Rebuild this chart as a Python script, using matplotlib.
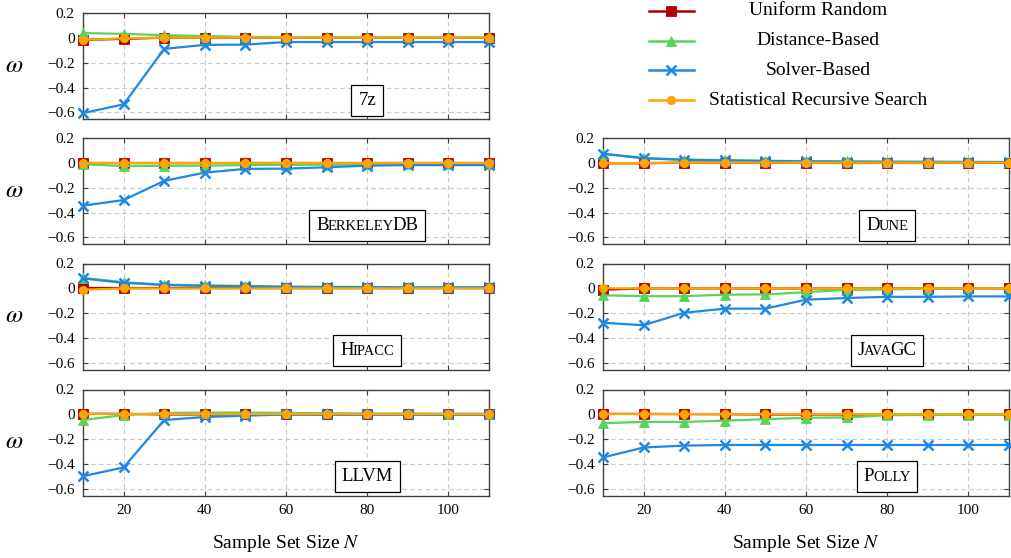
import numpy as np
import matplotlib
matplotlib.use("Agg")
import matplotlib.pyplot as plt
from matplotlib.ticker import FixedLocator, FuncFormatter
from matplotlib.offsetbox import AnchoredOffsetbox, HPacker, TextArea

plt.rcParams['font.family'] = ['Liberation Serif', 'DejaVu Serif']
plt.rcParams['mathtext.fontset'] = 'stix'

# sample sizes
sizes = [10, 20, 30, 40, 50, 60, 70, 80, 90, 100, 110]

methods = ['Uniform Random', 'Distance-Based', 'Solver-Based', 'Statistical Recursive Search']
colors = ['#b30000', '#5ad35a', '#1e88e5', '#ffa500']
markers = ['s', '^', 'x', 'o']
msizes = [7, 7.5, 6.5, 6]

# omega values per system: uniform, distance, solver, srs
z7_uniform = [-0.018, -0.01, 0, 0, 0, 0, 0, 0, 0, 0, 0]
z7_distance = [0.037, 0.03, 0.02, 0.012, 0.006, 0.005, 0.005, 0.005, 0.005, 0.005, 0.005]
z7_solver = [-0.605, -0.535, -0.09, -0.058, -0.056, -0.035, -0.035, -0.035, -0.035, -0.035, -0.035]
z7_srs = [-0.018, -0.005, 0, 0, 0, 0, 0, 0, 0, 0, 0]

bdb_uniform = [0, 0, 0, 0, 0, 0, 0, 0, 0, 0, 0]
bdb_distance = [-0.012, -0.028, -0.025, -0.024, -0.02, -0.018, -0.016, -0.014, -0.012, -0.01, -0.01]
bdb_solver = [-0.345, -0.30, -0.146, -0.08, -0.05, -0.048, -0.037, -0.024, -0.02, -0.02, -0.02]
bdb_srs = [0, 0, 0, 0, 0, 0, 0, 0, 0, 0, 0]

dune_uniform = [-0.005, -0.005, 0, 0, 0, 0, 0, 0, 0, 0, 0]
dune_distance = [0.07, 0.037, 0.025, 0.02, 0.015, 0.012, 0.01, 0.008, 0.008, 0.006, 0.006]
dune_solver = [0.072, 0.035, 0.022, 0.018, 0.013, 0.01, 0.008, 0.006, 0.005, 0.005, 0.004]
dune_srs = [-0.004, -0.003, 0, 0, 0, 0, 0, 0, 0, 0, 0]

hip_uniform = [0, 0, 0, 0, 0, 0, 0, 0, 0, 0, 0]
hip_distance = [0.085, 0.05, 0.03, 0.025, 0.02, 0.015, 0.013, 0.012, 0.01, 0.01, 0.01]
hip_solver = [0.08, 0.045, 0.028, 0.02, 0.017, 0.012, 0.01, 0.01, 0.008, 0.008, 0.008]
hip_srs = [-0.01, 0, 0, 0, 0, 0, 0, 0, 0, 0, 0]

jgc_uniform = [-0.01, 0, 0, 0, 0, 0, 0, 0, 0, 0, 0]
jgc_distance = [-0.055, -0.062, -0.062, -0.05, -0.048, -0.03, -0.012, -0.008, -0.002, 0, 0]
jgc_solver = [-0.275, -0.295, -0.195, -0.162, -0.162, -0.09, -0.077, -0.067, -0.067, -0.064, -0.064]
jgc_srs = [0.002, 0, 0, 0, 0, 0, 0, 0, 0, 0, 0]

llvm_uniform = [0.005, 0.005, 0, 0, 0, 0, 0, 0, 0, 0, 0]
llvm_distance = [-0.045, -0.005, 0.012, 0.015, 0.015, 0.012, 0.01, 0.008, 0.008, 0.006, 0.006]
llvm_solver = [-0.495, -0.425, -0.045, -0.02, -0.01, 0, 0, 0, 0, 0, 0]
llvm_srs = [0, 0, 0, 0, 0, 0, 0, 0, 0, 0, 0]

polly_uniform = [0.005, 0.004, 0.003, 0.002, 0, 0, 0, 0, 0, 0, 0]
polly_distance = [-0.07, -0.06, -0.06, -0.05, -0.038, -0.027, -0.024, -0.006, -0.004, -0.004, -0.003]
polly_solver = [-0.345, -0.265, -0.25, -0.245, -0.245, -0.245, -0.245, -0.245, -0.245, -0.245, -0.245]
polly_srs = [0, 0, 0, 0, 0, 0, 0, 0, 0, 0, 0]

# name, small caps?, series, (column, row)
panels = [
    ('7z', False, [z7_uniform, z7_distance, z7_solver, z7_srs], (0, 0)),
    ('BerkeleyDB', True, [bdb_uniform, bdb_distance, bdb_solver, bdb_srs], (0, 1)),
    ('Hipacc', True, [hip_uniform, hip_distance, hip_solver, hip_srs], (0, 2)),
    ('LLVM', False, [llvm_uniform, llvm_distance, llvm_solver, llvm_srs], (0, 3)),
    ('Dune', True, [dune_uniform, dune_distance, dune_solver, dune_srs], (1, 1)),
    ('JavaGC', True, [jgc_uniform, jgc_distance, jgc_solver, jgc_srs], (1, 2)),
    ('Polly', True, [polly_uniform, polly_distance, polly_solver, polly_srs], (1, 3)),
]

W, H = 1012, 558
fig = plt.figure(figsize=(W / 100, H / 100), dpi=100)

col_left = [83, 603]
ax_w = 406
row_top = [12.7, 137.7, 263.5, 389.5]
ax_h = 106


def small_caps(name, big=13.5, small=10.5):
    # fake small caps: lowercase letters become smaller capitals
    parts = []
    for ch in name:
        size = small if ch.islower() else big
        if parts and parts[-1][1] == size:
            parts[-1][0] += ch.upper()
        else:
            parts.append([ch.upper(), size])
    return [TextArea(t, textprops=dict(fontsize=s)) for t, s in parts]


ylab_fmt = FuncFormatter(lambda v, p: '0' if abs(v) < 1e-9 else ('%.1f' % v).replace('-', '\u2212'))

handles = None
for name, sc, series, (c, r) in panels:
    left = col_left[c] / W
    bottom = 1 - (row_top[r] + ax_h) / H
    ax = fig.add_axes([left, bottom, ax_w / W, ax_h / H])
    lines = []
    for vals, col, mk, ms in zip(series, colors, markers, msizes):
        ln, = ax.plot(sizes, vals, color=col, marker=mk, markersize=ms, lw=1.6,
                      markeredgewidth=1.8 if mk == 'x' else 0.6,
                      markeredgecolor=col, clip_on=False, zorder=3)
        lines.append(ln)
    if handles is None:
        handles = lines
    ax.set_xlim(10, 110)
    ax.set_ylim(-0.65, 0.2)
    ax.xaxis.set_major_locator(FixedLocator([20, 40, 60, 80, 100]))
    ax.yaxis.set_major_locator(FixedLocator([-0.6, -0.4, -0.2, 0, 0.2]))
    ax.yaxis.set_major_formatter(ylab_fmt)
    ax.grid(True, color='#c8c8c8', linestyle=(0, (4, 3)), lw=0.8, zorder=0)
    ax.tick_params(direction='in', top=True, right=True, length=3.5, width=0.8,
                   color='#404040', labelsize=11, pad=6)
    for s in ax.spines.values():
        s.set_color('#404040')
        s.set_linewidth(1.0)
    if r == 3:
        ax.set_xlabel('Sample Set Size $N$', fontsize=14, labelpad=12)
    else:
        ax.tick_params(labelbottom=False)
    if c == 0:
        ax.set_ylabel('$\\omega$', fontsize=18, rotation=0, va='center')
        ax.yaxis.set_label_coords(-0.17, 0.5)

    if sc:
        kids = small_caps(name)
    else:
        kids = [TextArea(name, textprops=dict(fontsize=13.5))]
    box = HPacker(children=kids, align='baseline', pad=0, sep=-1)
    anch = AnchoredOffsetbox(loc='lower center', child=box, pad=0.5, borderpad=0,
                             frameon=True, bbox_to_anchor=(0.70, 0.03),
                             bbox_transform=ax.transAxes)
    anch.patch.set_boxstyle('square', pad=0)
    anch.patch.set_edgecolor('black')
    anch.patch.set_linewidth(0.9)
    anch.zorder = 5
    ax.add_artist(anch)

# legend keys only; the labels are centred separately below like the original
leg = fig.legend(handles, [''] * len(methods), loc='upper left',
                 bbox_to_anchor=(648 / W, 1 - 3 / H),
                 frameon=False, fontsize=14, handlelength=2.3, handletextpad=0.0,
                 labelspacing=0.63, borderpad=0, borderaxespad=0.05)
for ln in leg.get_lines():
    ln.set_linewidth(1.8)

fig.canvas.draw()
rend = fig.canvas.get_renderer()
for ln, label in zip(leg.get_lines(), methods):
    bb = ln.get_window_extent(rend)
    fig.text(818 / W, (bb.y0 + bb.y1) / 2 / H, label, ha='center', va='center',
             fontsize=14)

fig.savefig('out.png', dpi=100)
